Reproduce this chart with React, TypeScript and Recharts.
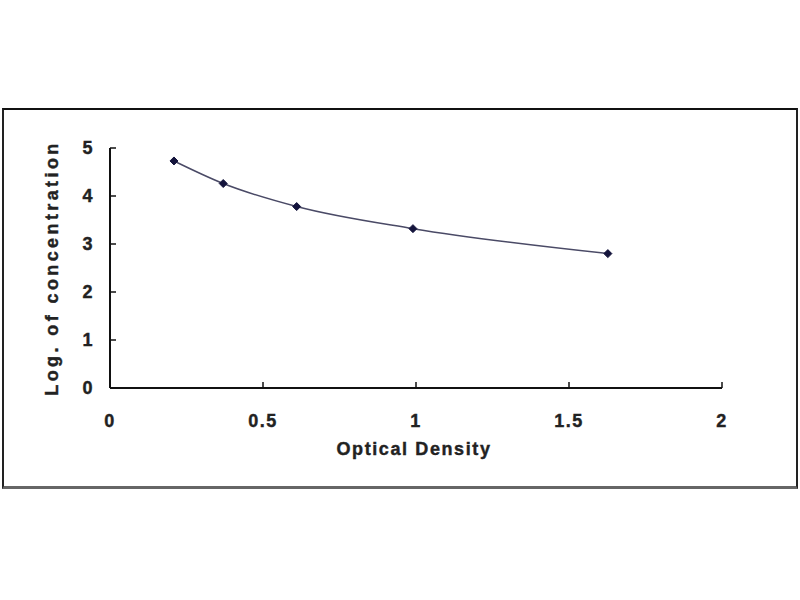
import React from 'react';
import { LineChart, Line, XAxis, YAxis, Label } from 'recharts';

// standard curve readings
const opticalDensity = [0.209, 0.37, 0.61, 0.99, 1.627];
const logConcentration = [4.73, 4.26, 3.78, 3.32, 2.8];
const xTicks = [0, 0.5, 1, 1.5, 2];
const yTicks = [0, 1, 2, 3, 4, 5];

const data = opticalDensity.map((od, i) => ({ od, log: logConcentration[i] }));

const FONT = '"Liberation Sans", Arial, sans-serif';

// small filled diamond marker
const Diamond = ({ cx, cy }: any) => {
  if (cx == null || cy == null) return null;
  const r = 4;
  return (
    <polygon
      points={`${cx},${cy - r} ${cx + r},${cy} ${cx},${cy + r} ${cx - r},${cy}`}
      fill="#14143c"
      stroke="#14143c"
    />
  );
};

const tickStyle = {
  fontFamily: FONT,
  fontSize: 18,
  fontWeight: 700,
  fill: '#222',
  stroke: '#222',
  strokeWidth: 0.4,
  letterSpacing: 1.5,
};

const titleStyle = { fontFamily: FONT, fontSize: 18, fontWeight: 700, fill: '#222', stroke: '#222', strokeWidth: 0.4 };

const App: React.FC = () => {
  return (
    <div style={{ position: 'absolute', left: 0, top: 0, width: 800, height: 600, background: '#fff' }}>
      <div
        style={{
          position: 'absolute',
          left: 2,
          top: 108,
          width: 796,
          height: 381,
          boxSizing: 'border-box',
          borderTop: '2px solid #111',
          borderLeft: '2px solid #222',
          borderRight: '2px solid #222',
          borderBottom: '3px solid #666',
        }}
      />
      <div style={{ position: 'absolute', left: 0, top: 0 }}>
        <LineChart
          width={800}
          height={600}
          data={data}
          margin={{ top: 148, right: 78, bottom: 145, left: 50 }}
        >
          <XAxis
            dataKey="od"
            type="number"
            domain={[0, 2]}
            ticks={xTicks}
            tickFormatter={(v: number) => String(v)}
            axisLine={{ stroke: '#111', strokeWidth: 2 }}
            tickLine={{ stroke: '#111', strokeWidth: 1.5 }}
            tickSize={-6}
            tickMargin={32}
            tick={tickStyle}
            height={67}
          >
            <Label
              value="Optical Density"
              position="insideBottom"
              offset={0}
              dx={-2}
              style={{ ...titleStyle, letterSpacing: 1.6 }}
            />
          </XAxis>
          <YAxis
            type="number"
            domain={[0, 5]}
            ticks={yTicks}
            axisLine={{ stroke: '#111', strokeWidth: 2 }}
            tickLine={{ stroke: '#111', strokeWidth: 1.5 }}
            tickSize={-6}
            tickMargin={22}
            tick={tickStyle}
            width={60}
          >
            <Label
              value="Log. of concentration"
              angle={-90}
              position="insideLeft"
              offset={2}
              style={{ ...titleStyle, letterSpacing: 3.4, textAnchor: 'middle' }}
            />
          </YAxis>
          <Line
            type="monotone"
            dataKey="log"
            stroke="#4a4a66"
            strokeWidth={1.5}
            dot={<Diamond />}
            activeDot={false}
            isAnimationActive={false}
          />
        </LineChart>
      </div>
    </div>
  );
};

export default App;
